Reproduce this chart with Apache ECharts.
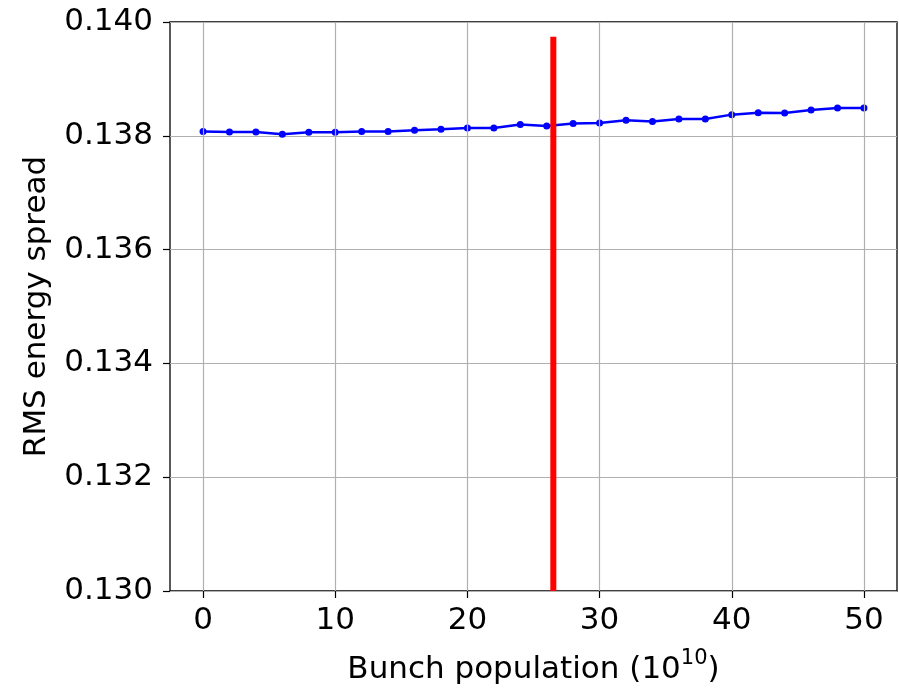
<!DOCTYPE html>
<html>
<head>
<meta charset="utf-8">
<script src="https://cdn.jsdelivr.net/npm/echarts@6/dist/echarts.min.js"></script>
<style>html,body{margin:0;padding:0;background:#fff}#c{width:899px;height:690px}</style>
</head>
<body>
<div id="c"></div>
<script>
const bunchPopulation = [0, 2, 4, 6, 8, 10, 12, 14, 16, 18, 20, 22, 24, 26, 28, 30, 32, 34, 36, 38, 40, 42, 44, 46, 48, 50];
const rmsEnergySpread = [0.138075, 0.138068, 0.138068, 0.138028, 0.138063, 0.138063, 0.138075, 0.138075, 0.138098, 0.138115,
  0.138138, 0.138138, 0.138197, 0.138173, 0.138215, 0.138225, 0.138272, 0.13825, 0.138295, 0.138295,
  0.138372, 0.138407, 0.1384, 0.138452, 0.138487, 0.138487];
const markerX = [26.5, 26.5];
const markerY = [0.130, 0.13974];
const xTicks = [0, 10, 20, 30, 40, 50];
const yTicks = [0.130, 0.132, 0.134, 0.136, 0.138, 0.140];

const font = 'DejaVu Sans';
const gridColor = '#b0b0b0';
const chart = echarts.init(document.getElementById('c'), null, {renderer: 'canvas'});
chart.setOption({
  animation: false,
  backgroundColor: '#fff',
  grid: {left: 170, right: 2, top: 22, bottom: 95, show: true, borderColor: '#000', borderWidth: 1.3, backgroundColor: 'transparent'},
  xAxis: {
    type: 'value', min: -2.5, max: 52.5,
    name: 'Bunch population (10{sup|10})', nameLocation: 'middle', nameGap: 57,
    nameTextStyle: {fontFamily: font, fontSize: 31, color: '#000', rich: {sup: {fontFamily: font, fontSize: 21, color: '#000', padding: [0, 0, 22, 0]}}},
    axisLine: {show: false, onZero: false},
    axisTick: {show: true, length: 7, lineStyle: {color: '#000', width: 1.2}, customValues: xTicks},
    axisLabel: {fontFamily: font, fontSize: 31, color: '#000', margin: 14, customValues: xTicks, formatter: v => String(v)},
    splitLine: {show: false}
  },
  yAxis: {
    type: 'value', min: 0.130, max: 0.140, interval: 0.002,
    name: 'RMS energy spread', nameLocation: 'middle', nameGap: 118, nameRotate: 90,
    nameTextStyle: {fontFamily: font, fontSize: 31, color: '#000'},
    axisLine: {show: false, onZero: false},
    axisTick: {show: true, length: 7, lineStyle: {color: '#000', width: 1.2}},
    axisLabel: {fontFamily: font, fontSize: 31, color: '#000', margin: 17,
      formatter: v => {const t = yTicks.find(y => Math.abs(y - v) < 1e-9); return t !== undefined ? t.toFixed(3) : '';}},
    splitLine: {show: true, lineStyle: {color: gridColor, width: 1.2}}
  },
  series: [
    {
      type: 'line',
      data: bunchPopulation.map((x, i) => [x, rmsEnergySpread[i]]),
      lineStyle: {color: '#0000ff', width: 2.5},
      itemStyle: {color: '#0000ff'},
      symbol: 'circle', symbolSize: 7, showSymbol: true, z: 3,
      markLine: {
        silent: true, symbol: 'none', label: {show: false}, animation: false,
        lineStyle: {color: gridColor, width: 1.2, type: 'solid'},
        data: xTicks.map(x => ({xAxis: x}))
      }
    },
    {
      type: 'line',
      data: markerX.map((x, i) => [x, markerY[i]]),
      lineStyle: {color: '#ff0000', width: 6},
      symbol: 'none', z: 4
    }
  ]
});
</script>
</body>
</html>
